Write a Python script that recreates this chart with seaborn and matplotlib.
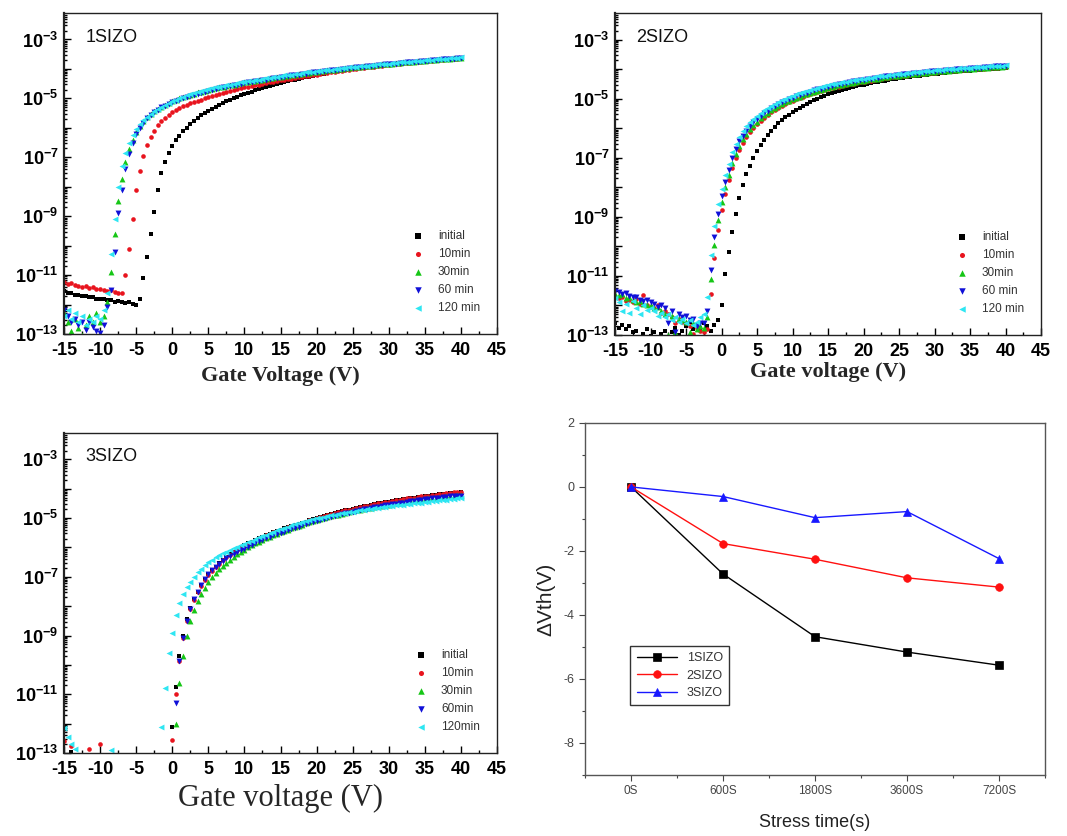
import numpy as np
import pandas as pd
import matplotlib
matplotlib.use("Agg")
import matplotlib.pyplot as plt
import seaborn as sns
from matplotlib.ticker import MultipleLocator, LogLocator, NullFormatter, FixedLocator

sns.set_theme(style="ticks")
plt.rcParams['font.family'] = ['Liberation Sans', 'DejaVu Sans']
plt.rcParams['axes.unicode_minus'] = False
plt.rcParams['mathtext.fontset'] = 'custom'
plt.rcParams['mathtext.rm'] = 'Liberation Sans'
plt.rcParams['mathtext.bf'] = 'Liberation Sans:bold'

NA = np.nan

# ---------------- data ----------------
# gate-voltage sweep (V), 0.5 V step from -15 V to 40 V
VG = np.linspace(-15, 40, 111)

STRESS_LABELS_1 = ["initial", "10min", "30min", "60 min", "120 min"]
STRESS_LABELS_2 = ["initial", "10min", "30min", "60 min", "120 min"]
STRESS_LABELS_3 = ["initial", "10min", "30min", "60min", "120min"]

# log10(Id / A)
P1_initial = [
    -11.55, -11.62, -11.60, -11.68, -11.66, -11.72, -11.70, -11.76, -11.74, -11.80,
    -11.82, -11.80, -11.86, -11.84, -11.90, -11.88, -11.92, -11.95, -11.93, -11.97,
    -12.00, -11.80, -11.10, -10.40, -9.60, -8.85, -8.10, -7.55, -7.15, -6.85,
    -6.62, -6.43, -6.27, -6.12, -6.00, -5.88, -5.77, -5.67, -5.58, -5.50,
    -5.42, -5.35, -5.28, -5.22, -5.16, -5.10, -5.05, -5.00, -4.95, -4.90,
    -4.86, -4.81, -4.77, -4.73, -4.69, -4.65, -4.61, -4.58, -4.55, -4.51,
    -4.48, -4.45, -4.42, -4.39, -4.36, -4.33, -4.31, -4.28, -4.26, -4.23,
    -4.21, -4.18, -4.16, -4.14, -4.12, -4.10, -4.08, -4.06, -4.04, -4.02,
    -4.00, -3.99, -3.97, -3.95, -3.94, -3.92, -3.91, -3.89, -3.88, -3.86,
    -3.85, -3.84, -3.82, -3.81, -3.80, -3.79, -3.78, -3.76, -3.75, -3.74,
    -3.73, -3.72, -3.71, -3.70, -3.69, -3.68, -3.67, -3.66, -3.65, -3.64,
    -3.63]
P1_10min = [
    -11.25, -11.30, -11.28, -11.34, -11.36, -11.40, -11.38, -11.44, -11.42, -11.46,
    -11.48, -11.50, -11.53, -11.52, -11.58, -11.60, -11.60, -11.00, -10.10, -9.10,
    -8.10, -7.45, -6.95, -6.60, -6.32, -6.10, -5.92, -5.78, -5.66, -5.56,
    -5.47, -5.40, -5.33, -5.27, -5.22, -5.17, -5.12, -5.08, -5.04, -5.00,
    -4.96, -4.92, -4.88, -4.85, -4.81, -4.78, -4.75, -4.72, -4.69, -4.66,
    -4.63, -4.60, -4.58, -4.55, -4.53, -4.50, -4.48, -4.46, -4.43, -4.41,
    -4.39, -4.37, -4.35, -4.33, -4.31, -4.29, -4.27, -4.25, -4.23, -4.21,
    -4.19, -4.17, -4.15, -4.13, -4.11, -4.10, -4.08, -4.06, -4.04, -4.03,
    -4.01, -4.00, -3.98, -3.96, -3.95, -3.93, -3.92, -3.90, -3.89, -3.88,
    -3.86, -3.85, -3.84, -3.82, -3.81, -3.80, -3.79, -3.78, -3.76, -3.75,
    -3.74, -3.73, -3.72, -3.71, -3.70, -3.69, -3.68, -3.67, -3.66, -3.65,
    -3.64]
P1_30min = [
    -12.30, -12.60, -12.90, -12.50, -12.80, -13.05, -12.70, -12.40, -12.60, -12.30,
    -12.60, -12.40, -11.90, -10.90, -9.60, -8.50, -7.75, -7.15, -6.72, -6.40,
    -6.15, -5.94, -5.77, -5.63, -5.52, -5.43, -5.35, -5.28, -5.21, -5.16,
    -5.10, -5.05, -5.00, -4.96, -4.92, -4.88, -4.84, -4.80, -4.77, -4.74,
    -4.71, -4.68, -4.65, -4.62, -4.60, -4.57, -4.55, -4.53, -4.50, -4.48,
    -4.46, -4.44, -4.42, -4.40, -4.38, -4.36, -4.34, -4.32, -4.30, -4.28,
    -4.26, -4.24, -4.23, -4.21, -4.19, -4.18, -4.16, -4.14, -4.13, -4.11,
    -4.10, -4.08, -4.07, -4.05, -4.04, -4.02, -4.01, -3.99, -3.98, -3.97,
    -3.95, -3.94, -3.93, -3.91, -3.90, -3.89, -3.88, -3.86, -3.85, -3.84,
    -3.83, -3.82, -3.81, -3.80, -3.78, -3.77, -3.76, -3.75, -3.74, -3.73,
    -3.72, -3.71, -3.70, -3.69, -3.68, -3.67, -3.66, -3.65, -3.64, -3.63,
    -3.62]
P1_60min = [
    -12.20, -12.40, -12.60, -12.50, -12.70, -12.60, -12.85, -12.60, -12.75, -12.90,
    -12.95, -12.70, -12.10, -11.50, -10.20, -8.90, -8.10, -7.40, -6.90, -6.50,
    -6.22, -6.00, -5.82, -5.67, -5.56, -5.46, -5.38, -5.31, -5.25, -5.19,
    -5.14, -5.09, -5.04, -5.00, -4.96, -4.92, -4.88, -4.84, -4.81, -4.78,
    -4.75, -4.72, -4.69, -4.66, -4.63, -4.60, -4.58, -4.55, -4.53, -4.51,
    -4.49, -4.46, -4.44, -4.42, -4.40, -4.38, -4.36, -4.34, -4.32, -4.30,
    -4.28, -4.26, -4.24, -4.22, -4.21, -4.19, -4.17, -4.16, -4.14, -4.12,
    -4.11, -4.09, -4.08, -4.06, -4.05, -4.03, -4.02, -4.00, -3.99, -3.98,
    -3.96, -3.95, -3.94, -3.92, -3.91, -3.90, -3.89, -3.87, -3.86, -3.85,
    -3.84, -3.83, -3.82, -3.80, -3.79, -3.78, -3.77, -3.76, -3.75, -3.74,
    -3.73, -3.72, -3.71, -3.70, -3.69, -3.68, -3.67, -3.66, -3.65, -3.64,
    -3.63]
P1_120min = [
    -12.40, -12.20, -12.50, -12.30, -12.60, -12.40, -12.70, -12.50, -12.60, -12.40,
    -12.50, -12.20, -11.60, -10.30, -9.10, -8.00, -7.30, -6.85, -6.50, -6.25,
    -6.05, -5.88, -5.74, -5.62, -5.52, -5.43, -5.35, -5.28, -5.21, -5.15,
    -5.09, -5.04, -4.99, -4.94, -4.90, -4.86, -4.82, -4.78, -4.75, -4.72,
    -4.69, -4.66, -4.63, -4.60, -4.58, -4.55, -4.53, -4.50, -4.48, -4.46,
    -4.44, -4.42, -4.40, -4.38, -4.36, -4.34, -4.32, -4.30, -4.28, -4.26,
    -4.24, -4.22, -4.21, -4.19, -4.17, -4.16, -4.14, -4.12, -4.11, -4.09,
    -4.08, -4.06, -4.05, -4.03, -4.02, -4.00, -3.99, -3.98, -3.96, -3.95,
    -3.94, -3.92, -3.91, -3.90, -3.89, -3.87, -3.86, -3.85, -3.84, -3.83,
    -3.82, -3.80, -3.79, -3.78, -3.77, -3.76, -3.75, -3.74, -3.73, -3.72,
    -3.71, -3.70, -3.69, -3.68, -3.67, -3.66, -3.65, -3.64, -3.63, -3.62,
    -3.61]

P2_initial = [
    -12.60, -12.75, -12.65, -12.80, -12.70, -12.90, -12.85, -13.10, -12.95, -12.80,
    -13.05, -12.90, -13.15, -12.95, -12.85, -13.10, -12.90, -12.75, -13.00, -12.85,
    -12.70, -12.55, -12.80, -12.65, -12.75, -12.60, -12.70, -12.85, -12.65, -12.50,
    -12.00, -10.95, -10.20, -9.50, -8.90, -8.38, -7.92, -7.55, -7.27, -7.02,
    -6.78, -6.58, -6.40, -6.23, -6.09, -5.96, -5.84, -5.73, -5.63, -5.54,
    -5.46, -5.38, -5.31, -5.24, -5.17, -5.11, -5.05, -5.00, -4.95, -4.90,
    -4.86, -4.82, -4.78, -4.74, -4.71, -4.67, -4.64, -4.61, -4.58, -4.55,
    -4.53, -4.50, -4.48, -4.45, -4.43, -4.41, -4.39, -4.37, -4.35, -4.33,
    -4.31, -4.30, -4.28, -4.26, -4.25, -4.23, -4.22, -4.20, -4.19, -4.18,
    -4.16, -4.15, -4.14, -4.13, -4.11, -4.10, -4.09, -4.08, -4.07, -4.06,
    -4.05, -4.04, -4.03, -4.02, -4.01, -4.00, -3.99, -3.99, -3.98, -3.97,
    -3.96]
P2_10min = [
    -11.70, -11.75, -11.70, -11.85, -11.80, -11.90, -11.78, -11.95, -11.64, -12.00,
    -12.05, -12.10, -12.00, -12.25, -12.20, -12.30, -12.40, -12.60, -12.45, -12.55,
    -12.60, -12.70, -12.95, -12.75, -12.85, -12.90, -12.80, -11.60, -10.40, -9.45,
    -8.78, -8.22, -7.76, -7.36, -7.02, -6.74, -6.50, -6.30, -6.13, -5.98,
    -5.86, -5.75, -5.64, -5.55, -5.46, -5.38, -5.31, -5.24, -5.18, -5.12,
    -5.07, -5.02, -4.97, -4.93, -4.89, -4.85, -4.81, -4.77, -4.74, -4.71,
    -4.68, -4.65, -4.62, -4.59, -4.56, -4.54, -4.51, -4.49, -4.47, -4.45,
    -4.43, -4.41, -4.39, -4.37, -4.35, -4.33, -4.31, -4.30, -4.28, -4.27,
    -4.25, -4.24, -4.22, -4.21, -4.19, -4.18, -4.17, -4.15, -4.14, -4.13,
    -4.12, -4.11, -4.10, -4.08, -4.07, -4.06, -4.05, -4.04, -4.03, -4.02,
    -4.01, -4.00, -3.99, -3.99, -3.98, -3.97, -3.96, -3.95, -3.95, -3.94,
    -3.93]
P2_30min = [
    -11.60, -11.65, -11.62, -11.75, -11.70, -11.80, -11.88, -11.85, -11.95, -12.00,
    -11.98, -12.10, -12.05, -12.20, -12.30, -13.00, -12.35, -12.90, -12.45, -12.50,
    -12.55, -12.90, -12.60, -12.80, -12.70, -12.75, -12.40, -11.10, -9.95, -9.10,
    -8.50, -8.00, -7.57, -7.18, -6.86, -6.60, -6.38, -6.20, -6.04, -5.90,
    -5.78, -5.67, -5.57, -5.48, -5.40, -5.32, -5.25, -5.19, -5.13, -5.07,
    -5.02, -4.97, -4.93, -4.88, -4.84, -4.80, -4.77, -4.73, -4.70, -4.67,
    -4.64, -4.61, -4.58, -4.55, -4.53, -4.50, -4.48, -4.46, -4.44, -4.41,
    -4.39, -4.37, -4.35, -4.34, -4.32, -4.30, -4.28, -4.27, -4.25, -4.24,
    -4.22, -4.21, -4.19, -4.18, -4.17, -4.15, -4.14, -4.13, -4.12, -4.10,
    -4.09, -4.08, -4.07, -4.06, -4.05, -4.04, -4.03, -4.02, -4.01, -4.00,
    -3.99, -3.98, -3.97, -3.96, -3.96, -3.95, -3.94, -3.93, -3.92, -3.92,
    -3.91]
P2_60min = [
    -11.50, -11.55, -11.60, -11.58, -11.68, -11.72, -11.70, -11.80, -11.85, -11.82,
    -11.90, -11.95, -12.05, -12.00, -12.10, -12.60, -12.20, -12.90, -12.30, -12.40,
    -12.35, -12.50, -12.45, -12.70, -12.60, -12.60, -12.20, -10.80, -9.70, -8.90,
    -8.30, -7.82, -7.40, -7.02, -6.70, -6.45, -6.25, -6.08, -5.93, -5.80,
    -5.69, -5.59, -5.50, -5.41, -5.33, -5.26, -5.19, -5.13, -5.07, -5.02,
    -4.97, -4.92, -4.88, -4.84, -4.80, -4.76, -4.72, -4.69, -4.66, -4.63,
    -4.60, -4.57, -4.54, -4.52, -4.49, -4.47, -4.45, -4.42, -4.40, -4.38,
    -4.36, -4.34, -4.32, -4.30, -4.29, -4.27, -4.25, -4.24, -4.22, -4.21,
    -4.19, -4.18, -4.17, -4.15, -4.14, -4.13, -4.12, -4.10, -4.09, -4.08,
    -4.07, -4.06, -4.05, -4.04, -4.03, -4.02, -4.01, -4.00, -3.99, -3.98,
    -3.97, -3.96, -3.95, -3.95, -3.94, -3.93, -3.92, -3.91, -3.91, -3.90,
    -3.89]
P2_120min = [
    -11.75, -11.90, -12.20, -11.95, -12.25, -11.85, -12.10, -12.30, -12.00, -12.15,
    -12.10, -12.20, -12.35, -12.25, -12.40, -12.30, -12.50, -12.40, -12.55, -12.45,
    -12.60, -12.50, -12.65, -12.55, -12.40, -12.30, -11.70, -10.30, -9.30, -8.55,
    -8.05, -7.60, -7.20, -6.82, -6.52, -6.30, -6.10, -5.94, -5.80, -5.68,
    -5.58, -5.48, -5.39, -5.31, -5.24, -5.17, -5.11, -5.05, -5.00, -4.95,
    -4.90, -4.86, -4.82, -4.78, -4.74, -4.71, -4.67, -4.64, -4.61, -4.58,
    -4.55, -4.52, -4.50, -4.47, -4.45, -4.43, -4.40, -4.38, -4.36, -4.34,
    -4.32, -4.30, -4.29, -4.27, -4.25, -4.24, -4.22, -4.21, -4.19, -4.18,
    -4.16, -4.15, -4.14, -4.12, -4.11, -4.10, -4.09, -4.08, -4.06, -4.05,
    -4.04, -4.03, -4.02, -4.01, -4.00, -3.99, -3.98, -3.97, -3.96, -3.96,
    -3.95, -3.94, -3.93, -3.92, -3.92, -3.91, -3.90, -3.89, -3.89, -3.88,
    -3.87]

# NA = below the 1e-13 floor of the plot (not visible in the picture)
P3_initial = [
    NA, NA, -12.95, NA, NA, NA, NA, NA, NA, NA,
    NA, NA, NA, NA, NA, NA, NA, NA, NA, NA,
    NA, NA, NA, NA, NA, NA, NA, NA, NA, NA,
    -12.10, -10.75, -9.70, -9.00, -8.45, -8.05, -7.75, -7.50, -7.28, -7.08,
    -6.92, -6.78, -6.65, -6.53, -6.42, -6.32, -6.23, -6.15, -6.07, -6.00,
    -5.93, -5.86, -5.80, -5.74, -5.68, -5.63, -5.58, -5.53, -5.48, -5.44,
    -5.40, -5.35, -5.31, -5.27, -5.23, -5.19, -5.15, -5.12, -5.08, -5.04,
    -5.00, -4.96, -4.93, -4.89, -4.86, -4.83, -4.80, -4.77, -4.74, -4.71,
    -4.68, -4.65, -4.63, -4.60, -4.58, -4.55, -4.53, -4.50, -4.48, -4.46,
    -4.44, -4.42, -4.40, -4.38, -4.36, -4.34, -4.32, -4.30, -4.29, -4.27,
    -4.25, -4.24, -4.22, -4.21, -4.19, -4.18, -4.17, -4.15, -4.14, -4.13,
    -4.12]
P3_10min = [
    -12.60, NA, -12.75, NA, NA, NA, NA, -12.85, NA, NA,
    -12.70, NA, NA, NA, NA, NA, NA, NA, NA, NA,
    NA, NA, NA, NA, NA, NA, NA, NA, NA, NA,
    -12.55, -11.00, -9.85, -9.10, -8.52, -8.10, -7.78, -7.52, -7.30, -7.10,
    -6.94, -6.80, -6.67, -6.55, -6.44, -6.34, -6.25, -6.16, -6.08, -6.01,
    -5.94, -5.87, -5.81, -5.75, -5.69, -5.64, -5.58, -5.53, -5.49, -5.44,
    -5.40, -5.36, -5.31, -5.27, -5.23, -5.19, -5.16, -5.12, -5.08, -5.05,
    -5.01, -4.97, -4.94, -4.90, -4.87, -4.83, -4.80, -4.77, -4.74, -4.71,
    -4.68, -4.66, -4.63, -4.60, -4.58, -4.55, -4.53, -4.50, -4.48, -4.46,
    -4.44, -4.41, -4.39, -4.37, -4.35, -4.33, -4.31, -4.30, -4.28, -4.26,
    -4.24, -4.23, -4.21, -4.20, -4.18, -4.17, -4.15, -4.14, -4.12, -4.11,
    -4.10]
P3_30min = [
    NA, NA, NA, NA, NA, NA, NA, NA, NA, NA,
    NA, NA, NA, NA, NA, NA, NA, NA, NA, NA,
    NA, NA, NA, NA, NA, NA, NA, NA, NA, NA,
    NA, -12.00, -10.60, -9.70, -9.00, -8.50, -8.13, -7.83, -7.58, -7.37,
    -7.18, -7.02, -6.88, -6.75, -6.63, -6.52, -6.42, -6.32, -6.23, -6.15,
    -6.07, -6.00, -5.93, -5.86, -5.80, -5.74, -5.68, -5.63, -5.58, -5.53,
    -5.48, -5.43, -5.39, -5.34, -5.30, -5.26, -5.22, -5.18, -5.14, -5.11,
    -5.07, -5.04, -5.00, -4.97, -4.94, -4.91, -4.88, -4.85, -4.82, -4.80,
    -4.77, -4.74, -4.72, -4.69, -4.67, -4.65, -4.62, -4.60, -4.58, -4.56,
    -4.54, -4.52, -4.50, -4.48, -4.46, -4.44, -4.42, -4.40, -4.39, -4.37,
    -4.35, -4.33, -4.32, -4.30, -4.29, -4.27, -4.26, -4.24, -4.23, -4.21,
    -4.20]
P3_60min = [
    NA, NA, NA, NA, NA, NA, NA, NA, NA, NA,
    NA, NA, NA, NA, NA, NA, NA, NA, NA, NA,
    NA, NA, NA, NA, NA, NA, NA, NA, NA, NA,
    NA, -11.30, -9.85, -9.10, -8.50, -8.08, -7.76, -7.50, -7.28, -7.08,
    -6.90, -6.77, -6.65, -6.55, -6.46, -6.37, -6.29, -6.22, -6.15, -6.09,
    -6.04, -5.97, -5.91, -5.85, -5.79, -5.74, -5.69, -5.64, -5.59, -5.55,
    -5.50, -5.46, -5.41, -5.37, -5.33, -5.29, -5.25, -5.21, -5.17, -5.13,
    -5.09, -5.06, -5.02, -4.99, -4.96, -4.92, -4.89, -4.86, -4.83, -4.81,
    -4.78, -4.75, -4.73, -4.70, -4.68, -4.66, -4.63, -4.61, -4.59, -4.57,
    -4.55, -4.53, -4.51, -4.49, -4.47, -4.45, -4.43, -4.42, -4.40, -4.38,
    -4.36, -4.35, -4.33, -4.32, -4.30, -4.29, -4.28, -4.26, -4.25, -4.24,
    -4.23]
P3_120min = [
    -12.15, -12.45, -12.70, -12.85, NA, NA, NA, NA, NA, NA,
    NA, NA, NA, -12.90, NA, NA, NA, NA, NA, NA,
    NA, NA, NA, NA, NA, NA, NA, -12.10, -10.80, -9.60,
    -8.90, -8.30, -7.90, -7.60, -7.36, -7.16, -6.99, -6.85, -6.72, -6.61,
    -6.50, -6.42, -6.34, -6.27, -6.20, -6.14, -6.08, -6.02, -5.97, -5.92,
    -5.87, -5.82, -5.77, -5.71, -5.66, -5.61, -5.56, -5.51, -5.46, -5.42,
    -5.37, -5.33, -5.29, -5.25, -5.21, -5.17, -5.14, -5.11, -5.07, -5.04,
    -5.01, -4.98, -4.96, -4.93, -4.91, -4.88, -4.86, -4.84, -4.82, -4.80,
    -4.78, -4.76, -4.74, -4.72, -4.70, -4.68, -4.67, -4.65, -4.63, -4.62,
    -4.60, -4.58, -4.57, -4.55, -4.54, -4.52, -4.51, -4.50, -4.48, -4.47,
    -4.45, -4.44, -4.43, -4.41, -4.40, -4.39, -4.37, -4.36, -4.35, -4.33,
    -4.32]

# threshold-voltage shift panel
STRESS_TIMES = ["0S", "600S", "1800S", "3600S", "7200S"]
DVTH_1SIZO = [0.0, -2.72, -4.68, -5.16, -5.57]
DVTH_2SIZO = [0.0, -1.77, -2.26, -2.84, -3.13]
DVTH_3SIZO = [0.0, -0.30, -0.96, -0.77, -2.24]
SAMPLES = ["1SIZO", "2SIZO", "3SIZO"]

XTICKS = [-15, -10, -5, 0, 5, 10, 15, 20, 25, 30, 35, 40, 45]
DECADES = [-13, -12, -11, -10, -9, -8, -7, -6, -5, -4, -3]

# ---------------- styles ----------------
SER_COLORS = ["#000000", "#e8141e", "#16c616", "#1010d8", "#2ee6f2"]
SER_MARKERS = ["s", "o", "^", "v", "<"]
SER_SIZES = [12, 11, 18, 18, 18]

fig = plt.figure(figsize=(10.67, 8.36), dpi=100)
fig.patch.set_facecolor("white")

ax1 = fig.add_axes([0.0600, 0.6005, 0.4058, 0.3840])
ax2 = fig.add_axes([0.5764, 0.5993, 0.3993, 0.3852])
ax3 = fig.add_axes([0.0600, 0.0993, 0.4058, 0.3828])
ax4 = fig.add_axes([0.5483, 0.0730, 0.4311, 0.4211])


def transfer_panel(ax, curves, labels, name, xlabel, xl_kw, xl_pad):
    for vals, lab, c, m, s in zip(curves, labels, SER_COLORS, SER_MARKERS, SER_SIZES):
        arr = np.asarray(vals, dtype=float)
        assert len(arr) == len(VG), (name, lab, len(arr))
        df = pd.DataFrame({"Vg": VG, "Id": 10.0 ** arr}).dropna()
        sns.scatterplot(data=df, x="Vg", y="Id", ax=ax, color=c, marker=m,
                        s=s, linewidth=0, label=lab, legend=False)
    ax.set_yscale("log")
    ax.set_xlim(-15, 45)
    ax.set_ylim(1e-13, 10 ** -2.1)
    ax.set_xticks(XTICKS)
    ax.set_xticklabels([str(t) for t in XTICKS], fontweight="bold", fontsize=13)
    ax.xaxis.set_minor_locator(MultipleLocator(2.5))
    ax.yaxis.set_major_locator(FixedLocator([10.0 ** e for e in DECADES]))
    ax.set_yticklabels([r"$\mathbf{10^{%d}}$" % e if e % 2 else "" for e in DECADES],
                       fontsize=13)
    ax.yaxis.set_minor_locator(LogLocator(base=10, subs=np.arange(2, 10), numticks=50))
    ax.yaxis.set_minor_formatter(NullFormatter())
    ax.tick_params(axis="both", which="both", direction="in", top=False, right=False,
                   colors="black", width=1)
    ax.tick_params(axis="both", which="major", length=5, pad=4)
    ax.tick_params(axis="both", which="minor", length=2.5)
    ax.tick_params(axis="x", which="major", pad=6)
    for sp in ax.spines.values():
        sp.set_color("#222222")
        sp.set_linewidth(1.0)
    ax.spines["left"].set_linewidth(1.6)
    ax.set_xlabel(xlabel, labelpad=xl_pad, **xl_kw)
    ax.set_ylabel("")
    ax.text(0.05, 0.925, name, transform=ax.transAxes, fontsize=13,
            va="center", ha="left", color="#111111")
    ax.legend(loc="lower right", bbox_to_anchor=(0.985, 0.03), frameon=False,
              fontsize=8.5, handlelength=0.8, handletextpad=1.3,
              labelspacing=0.5, markerscale=1.1, labelcolor="#333333")


bold_serif = dict(fontfamily="Liberation Serif", fontweight="bold", fontsize=16)
transfer_panel(ax1, [P1_initial, P1_10min, P1_30min, P1_60min, P1_120min],
               STRESS_LABELS_1, "1SIZO", "Gate Voltage (V)", bold_serif, 5)
transfer_panel(ax2, [P2_initial, P2_10min, P2_30min, P2_60min, P2_120min],
               STRESS_LABELS_2, "2SIZO", "Gate voltage (V)", bold_serif, 1)
transfer_panel(ax3, [P3_initial, P3_10min, P3_30min, P3_60min, P3_120min],
               STRESS_LABELS_3, "3SIZO", "Gate voltage (V)",
               dict(fontfamily="Liberation Serif", fontsize=22), 4)

# ---------------- ΔVth panel ----------------
pos = np.arange(len(STRESS_TIMES))
for vals, lab, c, m in zip([DVTH_1SIZO, DVTH_2SIZO, DVTH_3SIZO], SAMPLES,
                           ["#000000", "#ff1010", "#1818ff"], ["s", "o", "^"]):
    df = pd.DataFrame({"t": pos, "dv": vals})
    sns.lineplot(data=df, x="t", y="dv", ax=ax4, color=c, marker=m, markersize=5.5,
                 markeredgecolor=c, markeredgewidth=0.5, linewidth=1.0, label=lab)

ax4.set_xlim(-0.5, len(STRESS_TIMES) - 0.5)
ax4.set_ylim(-9, 2)
ax4.set_xticks(pos)
ax4.set_xticklabels(STRESS_TIMES, fontsize=8.5, color="#333333")
ax4.xaxis.set_minor_locator(MultipleLocator(0.5))
ax4.yaxis.set_major_locator(MultipleLocator(2))
ax4.yaxis.set_minor_locator(MultipleLocator(1))
ax4.tick_params(axis="y", labelsize=9, labelcolor="#333333")
ax4.tick_params(axis="both", which="both", direction="out", top=False, right=False,
                colors="#444444", width=0.8)
ax4.tick_params(axis="both", which="major", length=4)
ax4.tick_params(axis="both", which="minor", length=2.5)
for sp in ax4.spines.values():
    sp.set_color("#555555")
    sp.set_linewidth(1.0)
ax4.set_xlabel("Stress time(s)", fontsize=13, labelpad=12, color="#222222")
ax4.set_ylabel("ΔVth(V)", fontsize=15, labelpad=6, color="#222222")
leg = ax4.legend(loc="upper left", bbox_to_anchor=(0.085, 0.385), frameon=True,
                 fancybox=False, edgecolor="black", fontsize=9, handlelength=3.2,
                 borderpad=0.5, labelspacing=0.45, labelcolor="#333333")
leg.get_frame().set_linewidth(1.0)

fig.savefig("out.png", dpi=100, facecolor="white")
